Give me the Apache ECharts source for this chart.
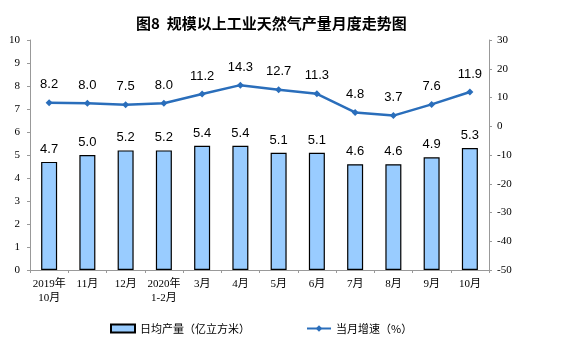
<!DOCTYPE html>
<html><head><meta charset="utf-8">
<script src="https://cdn.jsdelivr.net/npm/echarts@6/dist/echarts.min.js"></script>
<style>html,body{margin:0;padding:0;background:#fff}#c{width:561px;height:357px}</style>
</head><body><div id="c"></div>
<script>
const categories = ['2019年\n10月','11月','12月','2020年\n1-2月','3月','4月','5月','6月','7月','8月','9月','10月'];
const dailyOutput = [4.7, 5.0, 5.2, 5.2, 5.4, 5.4, 5.1, 5.1, 4.6, 4.6, 4.9, 5.3];
const monthlyGrowth = [8.2, 8.0, 7.5, 8.0, 11.2, 14.3, 12.7, 11.3, 4.8, 3.7, 7.6, 11.9];
const titleText = '图8  规模以上工业天然气产量月度走势图';
const barName = '日均产量（亿立方米）';
const lineName = '当月增速（%）';

const serif = '"Liberation Serif","DejaVu Serif","Noto Sans CJK SC",serif';
const sans = '"Liberation Sans",Arial,"Noto Sans CJK SC",sans-serif';
const chart = echarts.init(document.getElementById('c'));
chart.setOption({
  animation: false,
  title: {text: titleText, left: 131, top: 11, textStyle: {fontFamily: '"Noto Sans CJK SC",sans-serif', fontSize: 15, fontWeight: 'bold', color: '#000'}},
  legend: {
    bottom: 18, left: 105, itemGap: 56, itemWidth: 24, itemHeight: 8,
    textStyle: {fontFamily: '"Noto Sans CJK SC",sans-serif', fontSize: 11, color: '#000'},
    data: [{name: barName, icon: 'rect'}, {name: lineName}]
  },
  grid: {left: 30, right: 72, top: 40, bottom: 87},
  xAxis: {
    type: 'category', data: categories,
    axisLine: {lineStyle: {color: '#999'}},
    axisTick: {show: true, length: 3, lineStyle: {color: '#999'}},
    axisLabel: {fontFamily: serif, fontSize: 11, color: '#000', interval: 0, lineHeight: 14, margin: 7}
  },
  yAxis: [
    {type: 'value', min: 0, max: 10, interval: 1, position: 'left',
     axisLine: {show: true, lineStyle: {color: '#999'}},
     axisTick: {show: true, length: 3, lineStyle: {color: '#999'}},
     splitLine: {show: false},
     axisLabel: {fontFamily: serif, fontSize: 11, color: '#000', margin: 10}},
    {type: 'value', min: -50, max: 30, interval: 10, position: 'right',
     axisLine: {show: true, lineStyle: {color: '#999'}},
     axisTick: {show: true, length: 3, lineStyle: {color: '#999'}},
     splitLine: {show: false},
     axisLabel: {fontFamily: serif, fontSize: 11, color: '#000', margin: 8}}
  ],
  series: [
    {name: barName, type: 'bar', data: dailyOutput, barWidth: 16, yAxisIndex: 0,
     itemStyle: {color: '#99CCFF', borderColor: '#000', borderWidth: 1.2},
     label: {show: true, position: 'top', distance: 6, formatter: p => p.value.toFixed(1), fontFamily: sans, fontSize: 13, color: '#000'}},
    {name: lineName, type: 'line', data: monthlyGrowth, yAxisIndex: 1,
     symbol: 'diamond', symbolSize: 7,
     lineStyle: {color: '#2A6EBB', width: 2.5}, itemStyle: {color: '#2A6EBB'},
     label: {show: true, position: 'top', distance: 8, formatter: p => p.value.toFixed(1), fontFamily: sans, fontSize: 13, color: '#000'}}
  ]
});
</script></body></html>
